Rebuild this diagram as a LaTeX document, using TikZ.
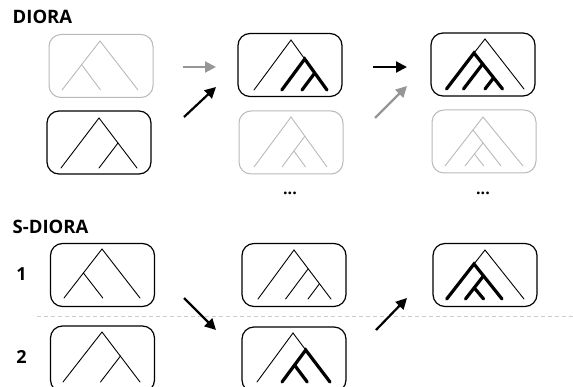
\documentclass[tikz,border=0pt]{standalone}
\usepackage{fontspec}
\setmainfont{Open Sans}
\usetikzlibrary{arrows.meta}
\definecolor{lgray}{RGB}{185,185,185}
\definecolor{agray}{RGB}{150,150,150}
\definecolor{dgray}{RGB}{205,205,205}
\tikzset{
  box/.style={draw=black, line width=1.2pt, rounded corners=12pt, minimum width=104pt, minimum height=63pt, inner sep=0pt, outer sep=0pt},
  gbox/.style={box, draw=lgray, line width=1pt},
  thin/.style={line width=0.9pt, line cap=round},
  thick/.style={line width=3.2pt, line cap=round},
  gtree/.style={line width=0.9pt, draw=lgray},
  arr/.style={line width=2.2pt, -{Triangle[length=11pt,width=11pt]}},
  garr/.style={arr, draw=agray, fill=agray},
  title/.style={font=\fontsize{18.5}{22}\selectfont\bfseries, anchor=base west, inner sep=0pt},
  num/.style={font=\fontsize{18}{22}\selectfont\bfseries, anchor=base, inner sep=0pt},
  dots/.style={font=\fontsize{16}{18}\selectfont\bfseries, inner sep=0pt}
}
\begin{document}
\begin{tikzpicture}[x=1pt,y=-1pt]
\useasboundingbox (0,0) rectangle (573,387);

% titles
\node[title] (tD) at (12.5,24) {DIORA};
\node[title] (tS) at (12.5,233.5) {S-DIORA};
\node[num] (n1) at (21.5,280.5) {1};
\node[num] (n2) at (21.5,363.5) {2};

% dashed separator
\coordinate (sepL) at (37,316);
\coordinate (sepR) at (573,316);
\draw[dgray, line width=0.9pt, dash pattern=on 4pt off 3pt] (sepL) -- (sepR);

% ===== DIORA =====
\node[gbox] (a1) at (101,66) {};
\node[box]  (a2) at (99,142.5) {};
\node[box]  (b1) at (290,65) {};
\node[gbox] (b2) at (291,142.5) {};
\node[box]  (c1) at (483,64.5) {};
\node[gbox] (c2) at (484,141.5) {};
\node[dots] (d1) at (290,193) {...};
\node[dots] (d2) at (483,193) {...};

% tree a1 (gray)
\draw[gtree] (62,90) -- (100,41) -- (138,90);
\draw[gtree] (82,65) -- (100.5,90);
% tree a2
\draw[thin] (61,168) -- (99,118) -- (137,168);
\draw[thin] (118,143) -- (99,168);
% tree b1
\draw[thin] (254,90) -- (291,40) -- (304.7,59);
\draw[thick] (281.8,90) -- (304.7,59) -- (327,90);
\draw[thick] (314.8,73) -- (302,90);
% tree b2 (gray)
\draw[gtree] (254,167) -- (291,117) -- (327,167);
\draw[gtree] (305,136) -- (282,167);
\draw[gtree] (294,151) -- (305.5,167);
% tree c1
\draw[thin] (474,53) -- (485,39) -- (524,89);
\draw[thick] (446.5,89) -- (474,53) -- (502.5,89);
\draw[thick] (482.6,64) -- (463.5,89);
\draw[thick] (493.5,78) -- (485,89);
% tree c2 (gray)
\draw[gtree] (445,166) -- (483,117) -- (523,166);
\draw[gtree] (473,130) -- (501,166);
\draw[gtree] (483,143) -- (465,166);
\draw[gtree] (474.4,154) -- (483.8,166);

% arrows DIORA
\coordinate (p1s) at (183,67);  \coordinate (p1e) at (216,67);
\coordinate (p2s) at (184,117); \coordinate (p2e) at (216,87);
\coordinate (p3s) at (373,67);  \coordinate (p3e) at (407,67);
\coordinate (p4s) at (375,118); \coordinate (p4e) at (407,86);
\draw[garr] (p1s) -- (p1e);
\draw[arr] (p2s) -- (p2e);
\draw[arr] (p3s) -- (p3e);
\draw[garr] (p4s) -- (p4e);

% ===== S-DIORA =====
\node[box] (s1) at (102.5,275) {};
\node[box, minimum height=66pt] (s2) at (102.5,359) {};
\node[box] (m1) at (294,275) {};
\node[box, minimum height=65pt] (m2) at (294,359.5) {};
\node[box] (r1) at (485,275) {};

% tree s1
\draw[thin] (64,298) -- (102,249) -- (140,298);
\draw[thin] (83.4,273) -- (102.8,298);
% tree s2
\draw[thin] (63,382) -- (102,332) -- (140,382);
\draw[thin] (120.5,356) -- (100.5,382);
% tree m1
\draw[thin] (258,299) -- (294,250) -- (331,299);
\draw[thin] (308,269) -- (285.6,299);
\draw[thin] (319.3,284) -- (308,299);
% tree m2
\draw[thin] (257,382) -- (293,333) -- (305.7,350);
\draw[thick] (282,382) -- (305.7,350) -- (330,382);
\draw[thick] (294.5,365) -- (307.2,382);
% tree r1
\draw[thin] (474,264) -- (485,250) -- (524,299);
\draw[thick] (446.7,299) -- (474,264) -- (502,299);
\draw[thick] (483.4,276) -- (465.5,299);
\draw[thick] (474.4,288) -- (483.6,299);

% arrows S-DIORA
\coordinate (q1s) at (184,298); \coordinate (q1e) at (216,330);
\coordinate (q2s) at (376,330); \coordinate (q2e) at (407,298);
\draw[arr] (q1s) -- (q1e);
\draw[arr] (q2s) -- (q2e);
\end{tikzpicture}
\end{document}
